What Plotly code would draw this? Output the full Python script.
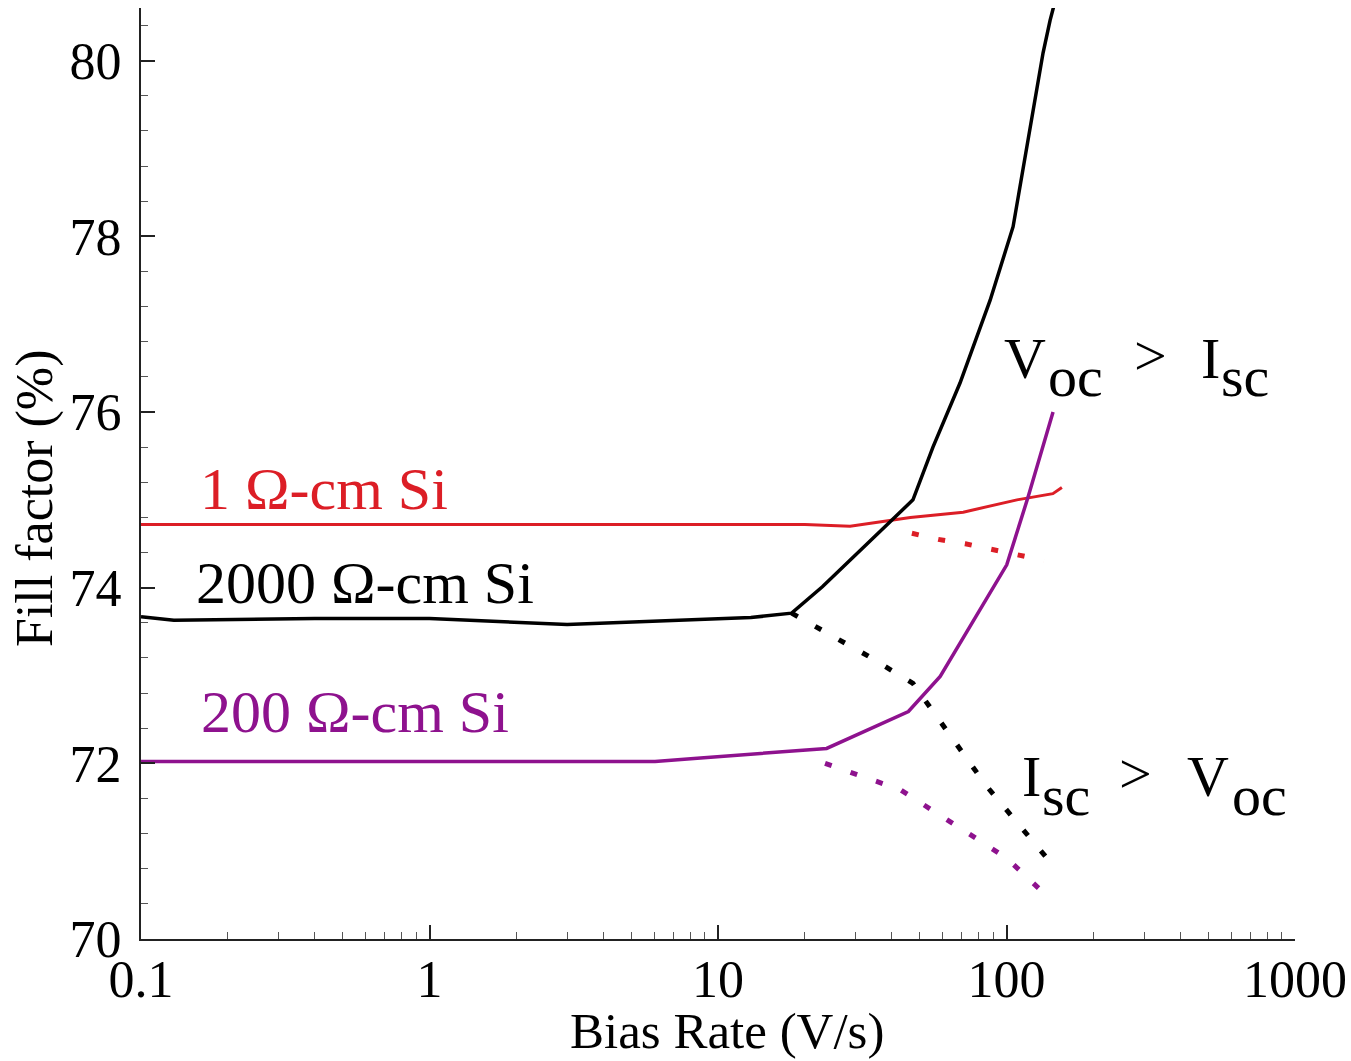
import plotly.graph_objects as go

# ---- data ----
red_x = [0.1, 0.3, 1, 3, 8.7, 20, 28.7, 46.4, 70.8, 108.7, 144.8, 155.6]
red_y = [74.72, 74.72, 74.72, 74.72, 74.72, 74.72, 74.70, 74.80, 74.86, 75.00, 75.07, 75.14]
red_dot_x = [47, 58, 72, 88, 108, 135]
red_dot_y = [74.62, 74.55, 74.50, 74.44, 74.37, 74.31]

blk_x = [0.1, 0.13, 0.4, 1, 3, 7, 13, 18, 23, 47.4, 55.6, 69, 87.7, 105.4, 120.7, 133.9, 141.6, 148]
blk_y = [73.67, 73.63, 73.65, 73.65, 73.58, 73.63, 73.66, 73.71, 74.01, 75.0, 75.6, 76.33, 77.27, 78.11, 79.25, 80.09, 80.46, 80.7]
blk_dot_x = [18, 33.2, 47.4, 67.1, 85.3, 150]
blk_dot_y = [73.71, 73.22, 72.91, 72.23, 71.74, 70.78]

pur_x = [0.1, 6.05, 8.7, 23.8, 45.7, 58.9, 100.2, 119, 145]
pur_y = [72.02, 72.02, 72.06, 72.17, 72.59, 72.99, 74.26, 75.04, 76.0]
pur_dot_x = [23.5, 42.8, 70.8, 100.2, 140]
pur_dot_y = [72.0, 71.70, 71.24, 70.92, 70.47]

x_tickvals = [0.1, 1, 10, 100, 1000]
x_ticktext = ["0.1", "1", "10", "100", "1000"]
y_tickvals = [70, 72, 74, 76, 78, 80]
y_ticktext = ["70", "72", "74", "76", "78", "80"]

RED = "#dc1e26"
BLK = "#000000"
PUR = "#8e128e"
FONT = "Liberation Serif"

fig = go.Figure()
DOT = "7px,20px"
for x, y, c, dash, w in [
    (red_x, red_y, RED, "solid", 3),
    (red_dot_x, red_dot_y, RED, DOT, 5),
    (blk_x, blk_y, BLK, "solid", 3.5),
    (blk_dot_x, blk_dot_y, BLK, DOT, 5),
    (pur_x, pur_y, PUR, "solid", 3.5),
    (pur_dot_x, pur_dot_y, PUR, DOT, 5),
]:
    fig.add_trace(go.Scatter(x=x, y=y, mode="lines",
                             line=dict(color=c, width=w, dash=dash),
                             showlegend=False, hoverinfo="skip"))

# plot-area geometry in pixels (for placing text)
L, R, T, B = 141, 56, 8, 122
W, H = 1351, 1061
PW, PH = W - L - R, H - T - B

def px(xp):
    return (xp - L) / PW

def py(yp):
    return (H - B - yp) / PH

ann = []
def txt(s, xl, ymid, size, color="black", anchor="left"):
    ann.append(dict(text=s, x=px(xl), y=py(ymid), xref="paper", yref="paper",
                    xanchor=anchor, yanchor="middle", showarrow=False,
                    font=dict(family=FONT, size=size, color=color)))

LS = 60
txt("1 Ω-cm Si", 198, 489, LS, RED)
txt("2000 Ω-cm Si", 194, 583, LS, BLK)
txt("200 Ω-cm Si", 199, 712, LS, PUR)

AS = 58
off = 17
# V_oc > I_sc (upper)
txt("V", 1002, 375 - off, AS)
txt("oc", 1046, 393 - off, AS)
txt(">", 1132, 373 - off, AS)
txt("I", 1199, 375 - off, AS)
txt("sc", 1219, 393 - off, AS)
# I_sc > V_oc (lower)
txt("I", 1020, 793 - off, AS)
txt("sc", 1040, 812 - off, AS)
txt(">", 1117, 790 - off, AS)
txt("V", 1185, 793 - off, AS)
txt("oc", 1230, 812 - off, AS)

# axis titles
ann.append(dict(text="Fill factor (%)", x=px(35), y=py(499), xref="paper", yref="paper",
                xanchor="center", yanchor="middle", textangle=-90, showarrow=False,
                font=dict(family=FONT, size=52, color="black")))
ann.append(dict(text="Bias Rate (V/s)", x=px(727), y=py(1031), xref="paper", yref="paper",
                xanchor="center", yanchor="middle", showarrow=False,
                font=dict(family=FONT, size=51, color="black")))

fig.update_layout(
    width=W, height=H,
    margin=dict(l=L, r=R, t=T, b=B, autoexpand=False),
    paper_bgcolor="white", plot_bgcolor="white",
    annotations=ann,
    font=dict(family=FONT, color="black"),
)

fig.update_xaxes(
    type="log", range=[-1, 3], automargin=False,
    tickvals=x_tickvals, ticktext=x_ticktext,
    showline=True, linecolor="#222", linewidth=2, mirror=False,
    ticks="inside", ticklen=14, tickwidth=1.5, tickcolor="#222",
    minor=dict(ticks="inside", ticklen=7, tickwidth=1, tickcolor="#555", dtick="D1", showgrid=False),
    showgrid=False, zeroline=False,
    tickfont=dict(family=FONT, size=52, color="black"),
    ticklabelstandoff=-6,
)
fig.update_yaxes(
    range=[70, 80.6], automargin=False,
    tickvals=y_tickvals, ticktext=y_ticktext,
    showline=True, linecolor="#222", linewidth=2, mirror=False,
    ticks="inside", ticklen=14, tickwidth=1.5, tickcolor="#222",
    minor=dict(ticks="inside", ticklen=7, tickwidth=1, tickcolor="#555", dtick=0.4, tick0=70, showgrid=False),
    showgrid=False, zeroline=False,
    tickfont=dict(family=FONT, size=52, color="black"),
    ticklabelstandoff=7,
)

fig.write_html("out.html")
